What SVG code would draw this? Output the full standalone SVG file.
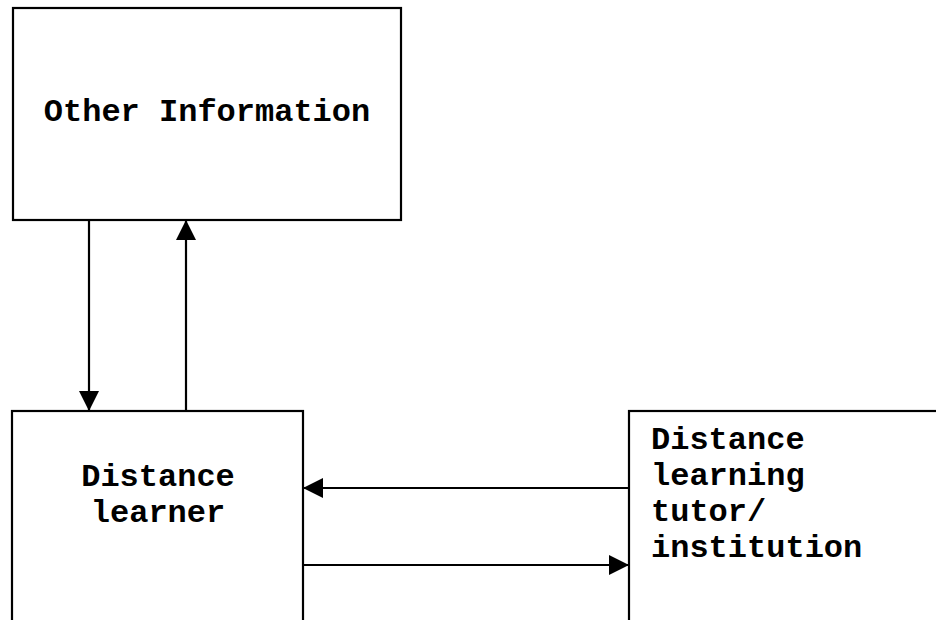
<svg xmlns="http://www.w3.org/2000/svg" width="936" height="620" viewBox="0 0 936 620">
  <style>
    .box { fill: #ffffff; stroke: #000000; stroke-width: 2.2; }
    .lbl { font-family: "Liberation Mono", "Courier New", monospace; font-weight: bold; font-size: 32px; fill: #000000; }
    .link { stroke: #000000; stroke-width: 2.2; fill: none; }
  </style>
  <defs>
    <marker id="head" viewBox="0 0 20 20" refX="20" refY="10" markerWidth="20" markerHeight="20" markerUnits="userSpaceOnUse" orient="auto">
      <path d="M0,0 L20,10 L0,20 Z" fill="#000000"/>
    </marker>
  </defs>
  <rect width="936" height="620" fill="#ffffff"/>

  <g id="other-information">
    <rect class="box" x="13" y="8" width="388" height="212"/>
    <text class="lbl" x="207" y="121" text-anchor="middle">Other Information</text>
  </g>

  <g id="distance-learner">
    <rect class="box" x="12" y="411" width="291" height="220"/>
    <text class="lbl" x="158" y="486" text-anchor="middle">Distance</text>
    <text class="lbl" x="158" y="522" text-anchor="middle">learner</text>
  </g>

  <g id="tutor-institution">
    <rect class="box" x="629" y="411" width="320" height="220"/>
    <text class="lbl" x="651" y="449">Distance</text>
    <text class="lbl" x="651" y="485">learning</text>
    <text class="lbl" x="651" y="521">tutor/</text>
    <text class="lbl" x="651" y="557">institution</text>
  </g>

  <g id="connectors">
    <line class="link" x1="89" y1="220" x2="89" y2="411" marker-end="url(#head)"/>
    <line class="link" x1="186" y1="411" x2="186" y2="220" marker-end="url(#head)"/>
    <line class="link" x1="629" y1="488" x2="303" y2="488" marker-end="url(#head)"/>
    <line class="link" x1="303" y1="565" x2="629" y2="565" marker-end="url(#head)"/>
  </g>
</svg>
